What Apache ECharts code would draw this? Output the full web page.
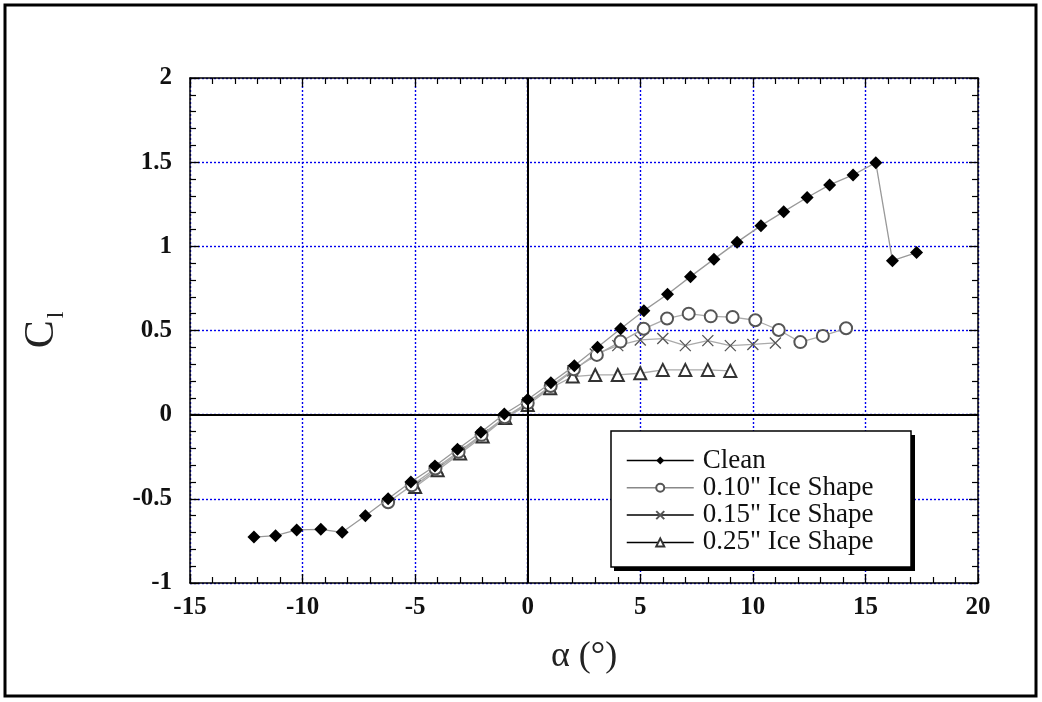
<!DOCTYPE html>
<html>
<head>
<meta charset="utf-8">
<script src="https://cdn.jsdelivr.net/npm/echarts@6/dist/echarts.min.js"></script>
<style>
  html, body { margin: 0; padding: 0; background: #fff; }
  #chart { width: 1042px; height: 702px; }
</style>
</head>
<body>
<div id="chart"></div>
<script>
// lift coefficient vs angle of attack
const cleanAlpha = [-12.16, -11.2, -10.26, -9.19, -8.24, -7.21, -6.2, -5.19, -4.12, -3.12, -2.08, -1.04, 0.0, 1.03, 2.07, 3.1, 4.13, 5.16, 6.21, 7.23, 8.27, 9.3, 10.36, 11.37, 12.41, 13.41, 14.45, 15.46, 16.2, 17.27];
const cleanCl = [-0.727, -0.719, -0.685, -0.681, -0.699, -0.6, -0.5, -0.4, -0.305, -0.205, -0.105, 0.004, 0.09, 0.19, 0.29, 0.4, 0.51, 0.618, 0.715, 0.82, 0.924, 1.025, 1.123, 1.206, 1.29, 1.365, 1.424, 1.497, 0.915, 0.963];

const ice10Alpha = [-6.2, -5.15, -4.1, -3.07, -2.05, -1.02, 0.0, 1.02, 2.05, 3.07, 4.12, 5.15, 6.19, 7.15, 8.13, 9.1, 10.11, 11.15, 12.11, 13.11, 14.14];
const ice10Cl = [-0.52, -0.42, -0.32, -0.22, -0.12, -0.015, 0.07, 0.17, 0.27, 0.355, 0.434, 0.51, 0.571, 0.6, 0.584, 0.58, 0.561, 0.503, 0.431, 0.468, 0.513];

const ice15Alpha = [-5, -4, -3, -2, -1, 0, 1, 2, 3, 4, 5, 6, 7, 8, 9, 10, 11];
const ice15Cl = [-0.42, -0.32, -0.22, -0.12, -0.02, 0.07, 0.16, 0.26, 0.36, 0.41, 0.444, 0.452, 0.41, 0.44, 0.41, 0.417, 0.426];

const ice25Alpha = [-5, -4, -3, -2, -1, 0, 1, 2, 3, 4, 5, 6, 7, 8, 9];
const ice25Cl = [-0.43, -0.33, -0.23, -0.13, -0.02, 0.058, 0.157, 0.226, 0.236, 0.236, 0.246, 0.266, 0.266, 0.266, 0.26];

const xTicks = { min: -15, max: 20, step: 5 };
const yTicks = { min: -1, max: 2, step: 0.5 };

const pairs = (xs, ys) => xs.map((x, i) => [x, ys[i]]);
const serif = "'Liberation Serif', 'DejaVu Serif', serif";
const crossPath = 'path://M0,0 L10,10 M10,0 L0,10';

function frameAxis(pos, isX) {
  const t = isX ? xTicks : yTicks;
  return {
    type: 'value',
    position: pos,
    min: t.min, max: t.max, interval: t.step,
    axisLine: { show: true, onZero: false, lineStyle: { color: '#000', width: 1.5 } },
    axisTick: { show: true, inside: true, length: 9, lineStyle: { color: '#000', width: 1.3 } },
    minorTick: { show: true, splitNumber: 5, length: 6, lineStyle: { color: '#000', width: 1.2 } },
    axisLabel: { show: false },
    splitLine: { show: false }
  };
}

const gridDots = { color: '#0000ee', type: [2, 2], width: 1.4 };

const chart = echarts.init(document.getElementById('chart'));
chart.setOption({
  backgroundColor: '#fff',
  animation: false,
  grid: { left: 190, top: 78, right: 64, bottom: 119 },
  graphic: [
    {
      type: 'rect',
      shape: { x: 5, y: 5, width: 1031, height: 691 },
      style: { fill: 'none', stroke: '#000', lineWidth: 3 },
      z: 100
    },
    {
      // legend box with its drop shadow
      type: 'rect',
      shape: { x: 614, y: 435, width: 301, height: 136 },
      style: { fill: '#000' },
      z: 20
    },
    {
      type: 'rect',
      shape: { x: 611, y: 431, width: 300, height: 136 },
      style: { fill: '#fff', stroke: '#000', lineWidth: 1.5 },
      z: 21
    },
    {
      type: 'text',
      x: 42, y: 330,
      rotation: Math.PI / 2,
      style: {
        text: '{c|C}{s|l}',
        align: 'center', verticalAlign: 'middle',
        rich: {
          c: { fontFamily: serif, fontSize: 42, fill: '#222', lineHeight: 46 },
          s: { fontFamily: serif, fontSize: 24, fill: '#222', lineHeight: 46, padding: [30, 0, 0, 2] }
        }
      },
      z: 50
    }
  ],
  legend: {
    orient: 'vertical',
    left: 611, top: 431,
    padding: [16, 20, 14, 15],
    itemWidth: 67, itemHeight: 10, itemGap: 0.3,
    z: 30,
    textStyle: { fontFamily: serif, fontSize: 27, color: '#111', padding: [0, 0, 0, 4] },
    data: [
      { name: 'Clean', lineStyle: { color: '#000', width: 1.5 } },
      { name: '0.10" Ice Shape', lineStyle: { color: '#888', width: 1.5 } },
      { name: '0.15" Ice Shape', lineStyle: { color: '#000', width: 1.5 } },
      { name: '0.25" Ice Shape', lineStyle: { color: '#000', width: 1.5 } }
    ]
  },
  xAxis: [
    Object.assign(frameAxis('bottom', true), {
      name: 'α (°)',
      nameLocation: 'middle',
      nameGap: 56,
      nameTextStyle: { fontFamily: serif, fontSize: 36, color: '#222' },
      axisLabel: { show: true, margin: 12, fontFamily: serif, fontSize: 25, fontWeight: 'bold', color: '#111' },
      splitLine: { show: true, lineStyle: gridDots }
    }),
    frameAxis('top', true)
  ],
  yAxis: [
    Object.assign(frameAxis('left', false), {
      axisLabel: { show: true, margin: 18, fontFamily: serif, fontSize: 25, fontWeight: 'bold', color: '#111' },
      splitLine: { show: true, lineStyle: gridDots }
    }),
    frameAxis('right', false)
  ],
  series: [
    {
      name: 'Clean',
      type: 'line',
      data: pairs(cleanAlpha, cleanCl),
      symbol: 'diamond', symbolSize: 13,
      itemStyle: { color: '#000' },
      lineStyle: { color: '#999', width: 1.3 },
      z: 5,
      markLine: {
        silent: true, symbol: 'none', label: { show: false },
        lineStyle: { color: '#000', type: 'solid', width: 2 },
        data: [{ xAxis: 0 }, { yAxis: 0 }]
      }
    },
    {
      name: '0.10" Ice Shape',
      type: 'line',
      data: pairs(ice10Alpha, ice10Cl),
      symbol: 'emptyCircle', symbolSize: 12,
      itemStyle: { color: '#555', borderWidth: 1.5 },
      lineStyle: { color: '#aaa', width: 1.3 },
      z: 4
    },
    {
      name: '0.15" Ice Shape',
      type: 'line',
      data: pairs(ice15Alpha, ice15Cl),
      symbol: crossPath, symbolSize: 11,
      itemStyle: { color: '#fff', borderColor: '#555', borderWidth: 1.3 },
      lineStyle: { color: '#aaa', width: 1.3 },
      z: 3
    },
    {
      name: '0.25" Ice Shape',
      type: 'line',
      data: pairs(ice25Alpha, ice25Cl),
      symbol: 'emptyTriangle', symbolSize: 12,
      itemStyle: { color: '#333', borderWidth: 1.5 },
      lineStyle: { color: '#aaa', width: 1.3 },
      z: 3
    }
  ]
});
</script>
</body>
</html>
